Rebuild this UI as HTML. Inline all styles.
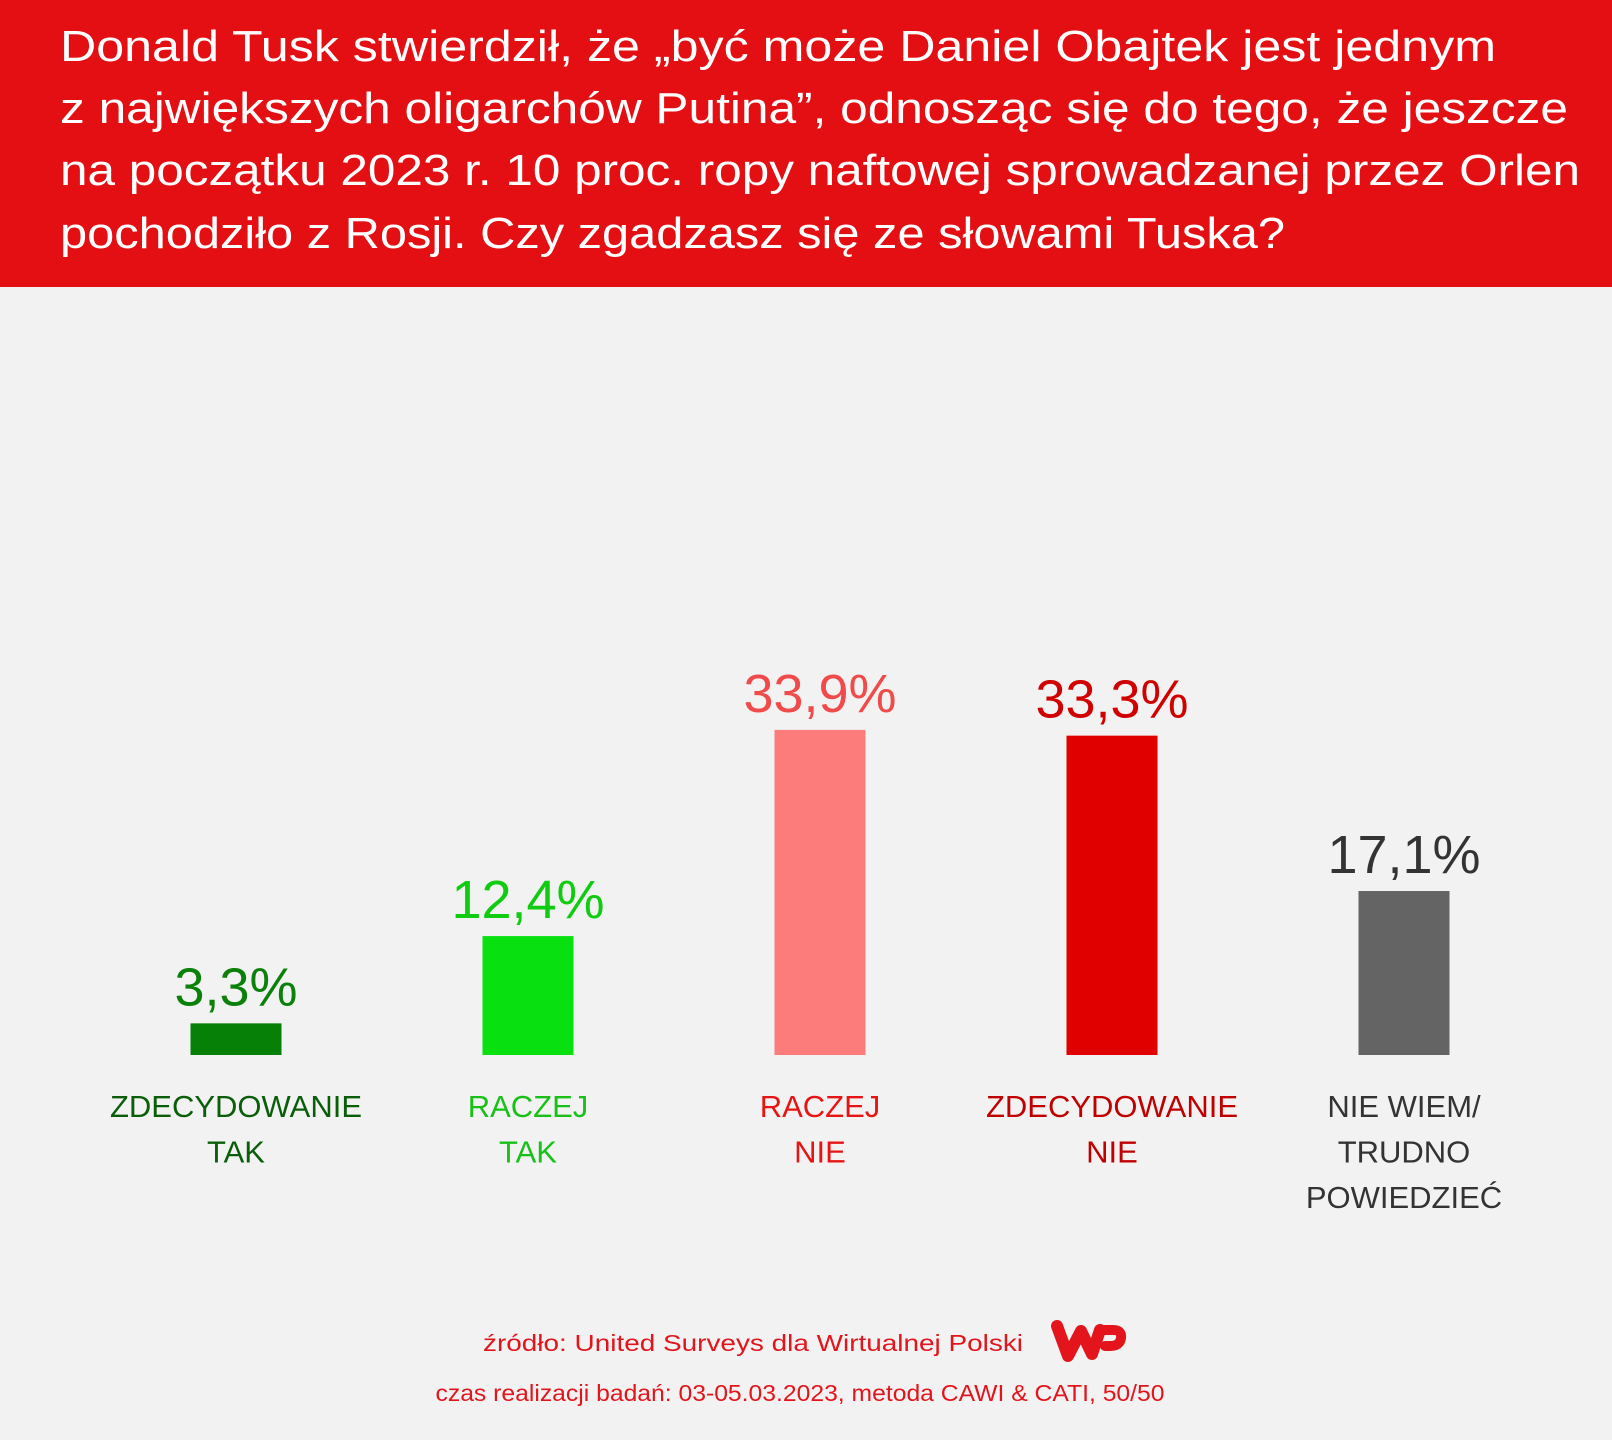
<!DOCTYPE html>
<html><head><meta charset="utf-8"><style>
html,body{margin:0;padding:0;background:#f2f2f2;}
svg{display:block;font-family:"Liberation Sans",sans-serif;}
</style></head><body>
<svg id="chart" width="1612" height="1440" viewBox="0 0 1612 1440">
<rect x="0" y="0" width="1612" height="1440" fill="#f2f2f2"/>
<rect x="0" y="0" width="1612" height="287" fill="#e30f13"/>
<g fill="#ffffff" font-size="44">
<text x="60" y="61" textLength="1436" lengthAdjust="spacingAndGlyphs">Donald Tusk stwierdził, że „być może Daniel Obajtek jest jednym</text>
<text x="60" y="123" textLength="1508" lengthAdjust="spacingAndGlyphs">z największych oligarchów Putina”, odnosząc się do tego, że jeszcze</text>
<text x="60" y="185" textLength="1520" lengthAdjust="spacingAndGlyphs">na początku 2023 r. 10 proc. ropy naftowej sprowadzanej przez Orlen</text>
<text x="60" y="248" textLength="1225" lengthAdjust="spacingAndGlyphs">pochodziło z Rosji. Czy zgadzasz się ze słowami Tuska?</text>
</g>
<g id="bars"></g>
<g fill="#e3141b" text-anchor="middle">
<text x="753" y="1351" font-size="23" textLength="540" lengthAdjust="spacingAndGlyphs">źródło: United Surveys dla Wirtualnej Polski</text>
<text x="800" y="1401" font-size="23" textLength="729" lengthAdjust="spacingAndGlyphs">czas realizacji badań: 03-05.03.2023, metoda CAWI &amp; CATI, 50/50</text>
</g>
<g fill="none" stroke="#e3141b" stroke-linecap="round" stroke-linejoin="round">
<path d="M1057 1326 L1068 1356 L1081 1331 L1092 1354 L1100 1330" stroke-width="12"/>
<path d="M1100 1330 L1113 1330 Q1122 1330 1121 1338 Q1120 1346 1110 1346 L1105 1346" stroke-width="10"/>
</g>
</svg>
<script>
const categories = [["ZDECYDOWANIE","TAK"],["RACZEJ","TAK"],["RACZEJ","NIE"],["ZDECYDOWANIE","NIE"],["NIE WIEM/","TRUDNO","POWIEDZIEĆ"]];
const values = [3.3, 12.4, 33.9, 33.3, 17.1];
const valueLabels = ["3,3%","12,4%","33,9%","33,3%","17,1%"];
const barColors = ["#068006","#08e010","#fc7c7c","#e00000","#646464"];
const valueColors = ["#0b800b","#10cc10","#f04a4a","#d00000","#333333"];
const labelColors = ["#0a5e0a","#18c018","#e81414","#c00000","#333333"];
const NS = "http://www.w3.org/2000/svg";
const baseY = 1055, pxPerPct = 9.59;
function xCenter(i){ return 236 + i*292; }
function yScale(v){ return baseY - v*pxPerPct; }
const g = document.getElementById('bars');
values.forEach((v,i)=>{
  const cx = xCenter(i);
  const r = document.createElementNS(NS,'rect');
  r.setAttribute('x', cx-45.5); r.setAttribute('y', yScale(v));
  r.setAttribute('width', 91); r.setAttribute('height', baseY - yScale(v));
  r.setAttribute('fill', barColors[i]);
  
  
  g.appendChild(r);
  const t = document.createElementNS(NS,'text');
  t.setAttribute('x', cx); t.setAttribute('y', yScale(v) - 18);
  t.setAttribute('text-anchor','middle'); t.setAttribute('font-size','54');
  t.setAttribute('fill', valueColors[i]);
  t.textContent = valueLabels[i];
  
  
  g.appendChild(t);
  categories[i].forEach((line,j)=>{
    const c = document.createElementNS(NS,'text');
    c.setAttribute('x', cx); c.setAttribute('y', 1117 + j*45.5);
    c.setAttribute('text-anchor','middle'); c.setAttribute('font-size','31');
    c.setAttribute('fill', labelColors[i]);
    c.textContent = line;
    
    
    g.appendChild(c);
  });
});
</script>
</body></html>
